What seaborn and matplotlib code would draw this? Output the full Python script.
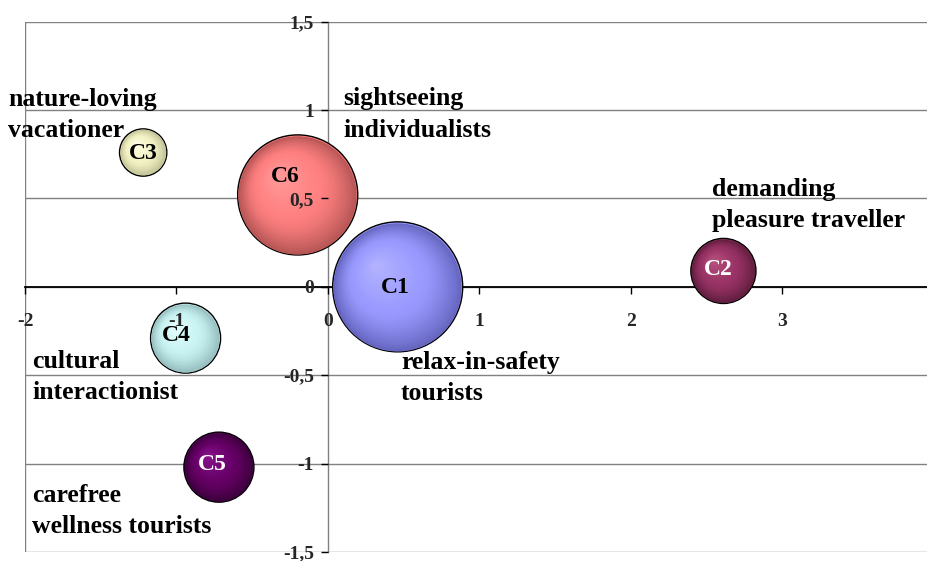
import numpy as np
import pandas as pd
import matplotlib
matplotlib.use("Agg")
import matplotlib.pyplot as plt
import matplotlib.transforms as mtransforms
from matplotlib.colors import to_rgb
import seaborn as sns

# Cluster positions on the two dimensions and cluster share (bubble area)
clusters = ["C1", "C2", "C3", "C4", "C5", "C6"]
dim1 = [0.46, 2.61, -1.22, -0.94, -0.72, -0.20]
dim2 = [0.00, 0.09, 0.76, -0.29, -1.02, 0.52]
share = [35.5, 8.9, 4.7, 10.3, 10.3, 30.3]

segment_names = [
    "relax-in-safety\ntourists",
    "demanding\npleasure traveller",
    "nature-loving\nvacationer",
    "cultural\ninteractionist",
    "carefree\nwellness tourists",
    "sightseeing\nindividualists",
]

x_ticks = [-2, -1, 0, 1, 2, 3, 4]
x_tick_labels = ["-2", "-1", "0", "1", "2", "3", "4"]
y_ticks = [-1.5, -1, -0.5, 0, 0.5, 1, 1.5]
y_tick_labels = ["-1,5", "-1", "-0,5", "0", "0,5", "1", "1,5"]

# Segment caption anchors: left edge and vertical centre of the two-line block
label_pos = [(0.482, -0.515), (2.535, 0.465), (-2.112, 0.972),
             (-1.954, -0.512), (-1.954, -1.266), (0.099, 0.975)]

# Offsets (points) of the cluster ids from the bubble centres
id_offsets = [(-1.5, -0.5), (-3.5, 0.8), (0, -0.7), (-6.5, 1.8), (-4.5, 1.8), (-9, 13.5)]

# Sphere colours: (highlight, body, rim)
sphere_colors = {
    "C1": ("#B4B4FF", "#9999FF", "#6464BE"),
    "C2": ("#B8527F", "#993366", "#5C1C3B"),
    "C3": ("#FFFFE6", "#F2F2C4", "#BDBD93"),
    "C4": ("#E6FFFF", "#C8F2F2", "#92BABA"),
    "C5": ("#8A1490", "#660066", "#380038"),
    "C6": ("#FF9A9A", "#FF8080", "#B45454"),
}
text_colors = {"C1": "black", "C2": "white", "C3": "black",
               "C4": "black", "C5": "white", "C6": "black"}

df = pd.DataFrame({"cluster": clusters, "dim1": dim1, "dim2": dim2, "share": share})

sns.set_theme(style="white")
plt.rcParams["font.family"] = ["Liberation Serif", "DejaVu Serif"]
plt.rcParams["font.weight"] = "bold"

fig = plt.figure(figsize=(9.28, 5.61), dpi=100)
ax = fig.add_axes([25 / 928, 9 / 561, 909 / 928, 530.3 / 561])
ax.set_xlim(-2, 4)
ax.set_ylim(-1.5, 1.5)

# Horizontal gridlines and the left frame line
for y in y_ticks:
    ax.axhline(y, color="#808080", lw=1, zorder=0.5)
ax.axvline(-2, color="#808080", lw=1, zorder=0.5)

# Axes crossing at the origin
ax.spines["top"].set_visible(False)
ax.spines["right"].set_visible(False)
ax.spines["left"].set_position(("data", 0))
ax.spines["bottom"].set_position(("data", 0))
ax.spines["left"].set_color("#808080")
ax.spines["left"].set_linewidth(1)
ax.spines["bottom"].set_color("black")
ax.spines["bottom"].set_linewidth(1.3)
for sp in ax.spines.values():
    sp.set_zorder(0.6)

# Bubble area proportional to cluster share
K = 246.8
smax = max(share)
palette = {c: sphere_colors[c][1] for c in clusters}
sns.scatterplot(data=df, x="dim1", y="dim2", hue="cluster", palette=palette,
                size="share", sizes=(0, K * smax), size_norm=(0, smax),
                edgecolor="black", linewidth=1, legend=False, ax=ax, zorder=2)


def shade(c, t):
    hi, body, rim = (np.array(to_rgb(v)) for v in sphere_colors[c])
    if t < 0.55:
        f = t / 0.55
        return tuple(hi + (body - hi) * f)
    f = ((t - 0.55) / 0.45) ** 1.4
    return tuple(body + (rim - body) * f)


# Radial shading to give each bubble a spherical look
n_layers = 45
for c, x, y, v, (ox, oy) in zip(clusters, dim1, dim2, share, id_offsets):
    s_full = K * v
    r_pt = np.sqrt(s_full) / 2
    hx, hy = -0.35 * r_pt, 0.35 * r_pt
    t0 = 1 - 0.7 / r_pt
    for k in range(n_layers):
        t = t0 * (1 - k / n_layers)
        tr = mtransforms.offset_copy(ax.transData, fig=fig,
                                     x=(1 - t) * hx, y=(1 - t) * hy, units="points")
        ax.scatter([x], [y], s=s_full * t * t, color=shade(c, t),
                   linewidths=0, transform=tr, zorder=2.01 + k * 1e-4)
    ttr = mtransforms.offset_copy(ax.transData, fig=fig, x=ox, y=oy, units="points")
    ax.text(x, y, c, ha="center", va="center", fontsize=17, fontweight="bold",
            color=text_colors[c], zorder=5, transform=ttr)

# Segment captions
for name, (lx, ly) in zip(segment_names, label_pos):
    ax.text(lx, ly, name, ha="left", va="center", fontsize=18.5, fontweight="bold",
            color="black", linespacing=1.45, zorder=5, clip_on=False)

ax.set_xticks(x_ticks)
ax.set_xticklabels(x_tick_labels)
ax.set_yticks(y_ticks)
ax.set_yticklabels(y_tick_labels)
ax.set_axisbelow(False)
ax.tick_params(axis="x", direction="out", length=5, width=1, color="black",
               pad=14, labelsize=14, bottom=True)
ax.tick_params(axis="y", direction="out", length=5, width=1, color="black",
               pad=5, labelsize=14, left=True)
for lbl in ax.get_xticklabels() + ax.get_yticklabels():
    lbl.set_fontweight("bold")
ax.set_xlabel("")
ax.set_ylabel("")

fig.savefig("out.png", dpi=100)
